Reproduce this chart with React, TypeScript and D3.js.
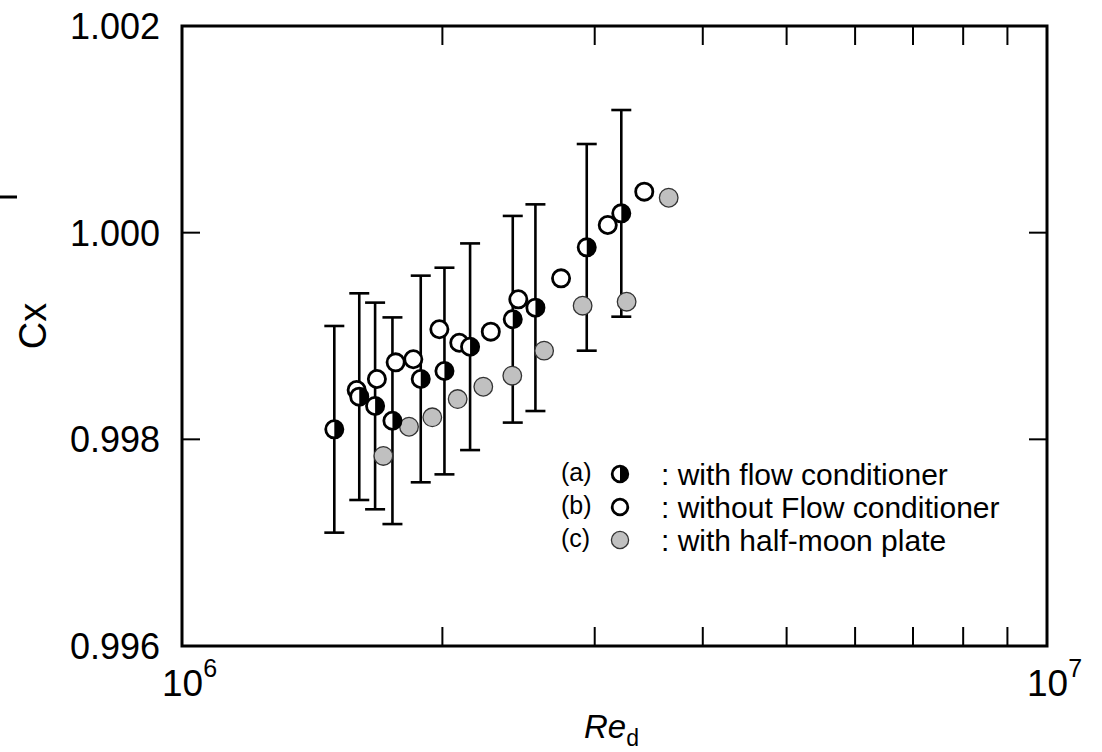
import React from "react";
import * as d3 from "d3";

// Series (a): with flow conditioner (with error bars)
const reA = [1.5e6, 1.603e6, 1.672e6, 1.751e6, 1.888e6, 2.011e6, 2.153e6, 2.412e6, 2.562e6, 2.937e6, 3.22e6];
const cxA = [0.998097, 0.998413, 0.998323, 0.99818, 0.998584, 0.998661, 0.998896, 0.999162, 0.999274, 0.999858, 1.000187];
const errA = [0.001, 0.001, 0.001, 0.001, 0.001, 0.001, 0.001, 0.001, 0.001, 0.001, 0.001];

// Series (b): without flow conditioner
const reB = [1.592e6, 1.68e6, 1.766e6, 1.851e6, 1.984e6, 2.092e6, 2.275e6, 2.448e6, 2.743e6, 3.106e6, 3.423e6];
const cxB = [0.998477, 0.998584, 0.998745, 0.998775, 0.999065, 0.998935, 0.999042, 0.999355, 0.999558, 1.000074, 1.000397];

// Series (c): with half-moon plate
const reC = [1.709e6, 1.83e6, 1.947e6, 2.083e6, 2.23e6, 2.409e6, 2.622e6, 2.905e6, 3.266e6, 3.653e6];
const cxC = [0.997839, 0.998122, 0.998213, 0.99839, 0.998509, 0.998616, 0.998858, 0.999293, 0.999332, 1.000338];

const yTicks = [0.996, 0.998, 1.0, 1.002];
const yTickLabels = ["0.996", "0.998", "1.000", "1.002"];
const xMajor = [1e6, 1e7];
const xMajorExp = ["6", "7"];
const xMinor = [2e6, 3e6, 4e6, 5e6, 6e6, 7e6, 8e6, 9e6];

const legendTags = ["(a)", "(b)", "(c)"];
const legendTexts = [": with flow conditioner", ": without Flow conditioner", ": with half-moon plate"];

const FONT = "'Liberation Sans', Arial, Helvetica, sans-serif";
const GRAY = "#c0c0c0";

function HalfCircle({ cx, cy, r, sw }: { cx: number; cy: number; r: number; sw: number }) {
  return (
    <g>
      <circle cx={cx} cy={cy} r={r} fill="#fff" />
      <path d={`M${cx},${cy - r} A${r},${r} 0 0 1 ${cx},${cy + r} Z`} fill="#000" />
      <circle cx={cx} cy={cy} r={r} fill="none" stroke="#000" strokeWidth={sw} />
    </g>
  );
}

export default function App() {
  const L = 182, R = 1047, T = 26, B = 646;
  const x = d3.scaleLog().domain([1e6, 1e7]).range([L, R]);
  const y = d3.scaleLinear().domain([0.996, 1.002]).range([B, T]);
  const r = 8.6;
  const sw = 2.8;
  const cap = 10;

  return (
    <svg width={1102} height={752} style={{ position: "absolute", left: 0, top: 0, background: "#fff" }} fontFamily={FONT}>
      <rect x={0} y={0} width={1102} height={752} fill="#fff" />
      {/* stray dash */}
      <line x1={0} x2={17} y1={197} y2={197} stroke="#000" strokeWidth={3} />

      {/* ticks */}
      {xMinor.map((v, i) => (
        <g key={"xm" + i}>
          <line x1={x(v)} x2={x(v)} y1={B} y2={B - 19} stroke="#000" strokeWidth={2} />
          <line x1={x(v)} x2={x(v)} y1={T} y2={T + 19} stroke="#000" strokeWidth={2} />
        </g>
      ))}
      {yTicks.slice(1, -1).map((v, i) => (
        <g key={"yt" + i}>
          <line x1={L} x2={L + 18} y1={y(v)} y2={y(v)} stroke="#000" strokeWidth={2} />
          <line x1={R} x2={R - 18} y1={y(v)} y2={y(v)} stroke="#000" strokeWidth={2} />
        </g>
      ))}

      {/* frame */}
      <rect x={L} y={T} width={R - L} height={B - T} fill="none" stroke="#000" strokeWidth={3} />

      {/* y tick labels */}
      {yTicks.map((v, i) => (
        <text key={"yl" + i} x={160} y={y(v)} dy="0.36em" textAnchor="end" fontSize={36} fill="#000">
          {yTickLabels[i]}
        </text>
      ))}

      {/* x tick labels */}
      {xMajor.map((v, i) => (
        <text key={"xl" + i} x={x(v) - 20} y={696} fontSize={37} fill="#000">
          10
          <tspan fontSize={25} dy={-19}>{xMajorExp[i]}</tspan>
        </text>
      ))}

      {/* axis titles */}
      <text x={584} y={738} fontSize={33} fill="#000">
        <tspan fontStyle="italic">Re</tspan>
        <tspan fontSize={23} dy={8}>d</tspan>
      </text>
      <text transform={`translate(46,326) rotate(-90)`} textAnchor="middle" fontSize={38} fill="#000">
        Cx
      </text>

      {/* error bars */}
      {reA.map((v, i) => {
        const px = x(v);
        const y1 = y(cxA[i] + errA[i]);
        const y2 = y(cxA[i] - errA[i]);
        return (
          <g key={"eb" + i} stroke="#000" strokeWidth={2.6}>
            <line x1={px} x2={px} y1={y1} y2={y2} />
            <line x1={px - cap} x2={px + cap} y1={y1} y2={y1} />
            <line x1={px - cap} x2={px + cap} y1={y2} y2={y2} />
          </g>
        );
      })}

      {/* series c */}
      {reC.map((v, i) => (
        <circle key={"c" + i} cx={x(v)} cy={y(cxC[i])} r={9.3} fill={GRAY} stroke="#333" strokeWidth={1.3} />
      ))}
      {/* series b */}
      {reB.map((v, i) => (
        <circle key={"b" + i} cx={x(v)} cy={y(cxB[i])} r={r} fill="#fff" stroke="#000" strokeWidth={sw} />
      ))}
      {/* series a */}
      {reA.map((v, i) => (
        <HalfCircle key={"a" + i} cx={x(v)} cy={y(cxA[i])} r={r} sw={sw} />
      ))}

      {/* legend */}
      {legendTags.map((t, i) => {
        const cy = 474 + i * 33;
        return (
          <g key={"lg" + i}>
            <text x={561} y={cy + 7} fontSize={25} fill="#000">{t}</text>
            {i === 0 && <HalfCircle cx={620} cy={cy} r={7.8} sw={2.8} />}
            {i === 1 && <circle cx={620} cy={cy} r={7.8} fill="#fff" stroke="#000" strokeWidth={2.8} />}
            {i === 2 && <circle cx={620} cy={cy} r={8.6} fill={GRAY} stroke="#333" strokeWidth={1.3} />}
            <text x={661} y={cy + 11} fontSize={30} fill="#000">{legendTexts[i]}</text>
          </g>
        );
      })}
    </svg>
  );
}
